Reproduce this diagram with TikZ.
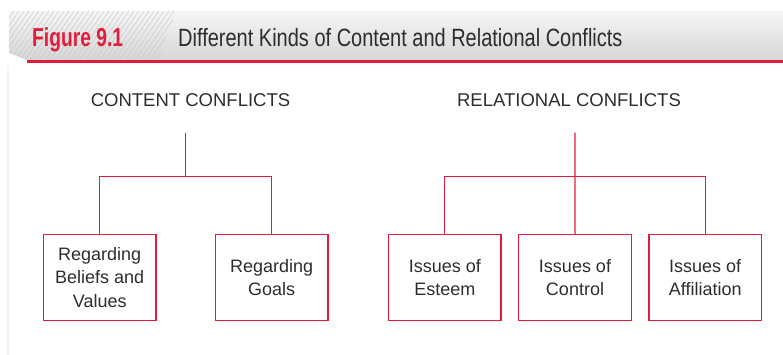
\documentclass[tikz,border=0pt]{standalone}
\usepackage{fontspec}
\setmainfont{Liberation Sans}
\newfontfamily\condfont[FakeStretch=0.80]{Liberation Sans}
\newfontfamily\fignumfont[FakeStretch=0.74]{Liberation Sans}
\usetikzlibrary{positioning}
\definecolor{confred}{RGB}{226, 28, 58}
\definecolor{textgray}{RGB}{45, 45, 45}
\definecolor{bandtop}{RGB}{246, 246, 246}
\definecolor{bandbot}{RGB}{214, 214, 216}
\definecolor{hatchgray}{RGB}{200, 200, 200}

\begin{document}
\begin{tikzpicture}[
  x = 1pt, y = 1pt,
  node distance = 16.5pt,
  box/.style  = {rectangle, draw=confred, line width=1.2pt,
                 minimum width=112.5pt, minimum height=85.5pt, inner sep=0pt,
                 align=center, text=textgray, font=\fontsize{18}{23.5}\selectfont},
  head/.style = {inner sep=0pt, text=textgray, font=\fontsize{18.5}{22}\selectfont},
  link/.style = {draw=confred, line width=1.2pt}
]
\useasboundingbox (0,0) rectangle (783,355);

%% Title band
\shade[top color=bandtop, bottom color=bandbot]
  (9,344) -- (783,344) -- (783,295) -- (27,295) -- (9,302) -- cycle;
\begin{scope}
  \clip (9,344) -- (176,344) -- (158,295) -- (27,295) -- (9,302) -- cycle;
  \foreach \i in {-60,-55,...,180}
    \draw[hatchgray, line width=0.5pt] (\i,295) -- ++(34,49);
\end{scope}
\draw[confred, line width=2.8pt] (27,293.5) -- (783,293.5);
\draw[gray!10, line width=2pt] (8,0) -- (8,290);

\node[anchor=base west, inner sep=0pt, text=confred,
      font=\fignumfont\fontsize{26}{30}\selectfont\bfseries] (fignum) at (32,308)
  {Figure 9.1};
\node[anchor=base west, inner sep=0pt, text=textgray,
      font=\condfont\fontsize{25}{30}\selectfont] (figtitle) at (178,308)
  {Different Kinds of Content and Relational Conflicts};

%% Headings
\node[head] (content) at (190.5,255) {CONTENT CONFLICTS};
\node[head] (relational) at (569,255) {RELATIONAL CONFLICTS};
\coordinate (ctop)  at (185.7,222.3);
\coordinate (cjoin) at (185.7,178.3);
\coordinate (rtop)  at (575,222.3);
\coordinate (rjoin) at (575,178.3);

%% Content conflicts
\node[box] (beliefs) at (99.7,77.6) {Regarding\\Beliefs and\\Values};
\node[box, right=58.3pt of beliefs] (goals) {Regarding\\Goals};

%% Relational conflicts
\node[box] (esteem) at (444.8,77.6) {Issues of\\Esteem};
\node[box, right=of esteem] (control) {Issues of\\Control};
\node[box, right=of control] (affil) {Issues of\\Affiliation};

%% Tree lines
\draw[link] (ctop) -- (cjoin);
\draw[link] (beliefs.north) |- (cjoin) -| (goals.north);
\draw[link] (rtop) -- (control.north);
\draw[link] (esteem.north) |- (rjoin) -| (affil.north);

\end{tikzpicture}
\end{document}
